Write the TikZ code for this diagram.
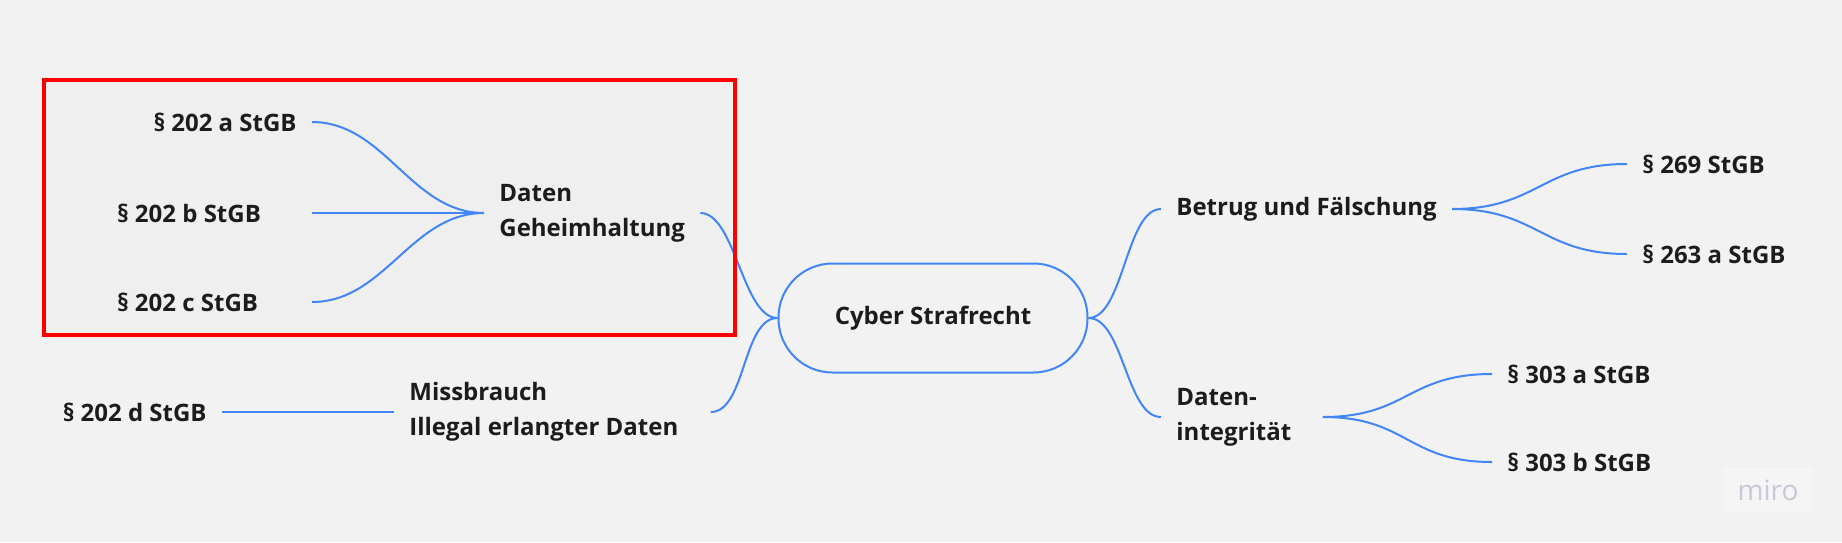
\documentclass[tikz,border=0pt]{standalone}
\usepackage{fontspec}
\setmainfont{Open Sans}
\definecolor{mirobg}{RGB}{242,242,242}
\definecolor{markbg}{RGB}{239,239,239}
\definecolor{miroblue}{RGB}{66,133,244}
\definecolor{mirotext}{RGB}{28,28,30}
\definecolor{markred}{RGB}{255,0,0}
\begin{document}
\begin{tikzpicture}[x=0.5pt,y=-0.5pt,
    every node/.style = {font=\bfseries\fontsize{12}{17.5}\selectfont, text=mirotext, inner xsep=7.5pt, inner ysep=2pt},
    link/.style = {draw=miroblue, line width=1pt},
    rootbox/.style = {draw=miroblue, line width=1pt, fill=mirobg, rounded corners=27pt, minimum width=154.5pt, minimum height=54.5pt},
    wide/.style = {align=flush left, text width=89.75pt},
    watermark/.style = {font=\fontsize{14}{14}\selectfont, text={rgb,255:red,200;green,200;blue,214}, fill={rgb,255:red,245;green,245;blue,245}, minimum width=43.5pt, minimum height=22.5pt}]
    \fill[mirobg] (0,0) rectangle (1842,542);
    \fill[markbg] (44,80) rectangle (735,335);
    % centre
    \node[rootbox] (root) at (933,318) {Cyber Strafrecht};
    % left side
    \node[anchor=west, align=left] (geh) at (484,213) {Daten\\Geheimhaltung};
    \node[anchor=east] (sa) at (312,122) {§ 202 a StGB};
    \node[anchor=east, wide] (sb) at (312,213) {§ 202 b StGB};
    \node[anchor=east, wide] (sc) at (312,302) {§ 202 c StGB};
    \node[anchor=west, align=flush left, text width=143pt] (miss) at (394,412) {Missbrauch\\Illegal erlangter Daten};
    \node[anchor=east] (sd) at (222,412) {§ 202 d StGB};
    % right side
    \node[anchor=west] (bet) at (1161,209) {Betrug und Fälschung};
    \node[anchor=west] (s269) at (1627,164) {§ 269 StGB};
    \node[anchor=west] (s263) at (1627,254) {§ 263 a StGB};
    \node[anchor=west, align=flush left, text width=65.5pt] (dint) at (1161,417) {Daten-\\integrität};
    \node[anchor=west] (s303a) at (1492,374) {§ 303 a StGB};
    \node[anchor=west] (s303b) at (1492,462) {§ 303 b StGB};
    \node[watermark] (miro) at (1768,490) {miro};
    % branches
    \draw[link] (root.west) .. controls +(-35,0) and +(35,0) .. (geh.east);
    \draw[link] (root.west) .. controls +(-35,0) and +(35,0) .. (miss.east);
    \draw[link] (root.east) .. controls +(35,0) and +(-35,0) .. (bet.west);
    \draw[link] (root.east) .. controls +(35,0) and +(-35,0) .. (dint.west);
    \foreach \n in {sa,sb,sc}
        \draw[link] (geh.west) .. controls +(-73,0) and +(73,0) .. (\n.east);
    \draw[link] (sd.east) -- (miss.west);
    \foreach \n in {s269,s263}
        \draw[link] (bet.east) .. controls +(86,0) and +(-86,0) .. (\n.west);
    \foreach \n in {s303a,s303b}
        \draw[link] (dint.east) .. controls +(85,0) and +(-85,0) .. (\n.west);
    % marked group
    \draw[markred, line width=2.25pt] (44,80) rectangle (735,335);
\end{tikzpicture}
\end{document}
